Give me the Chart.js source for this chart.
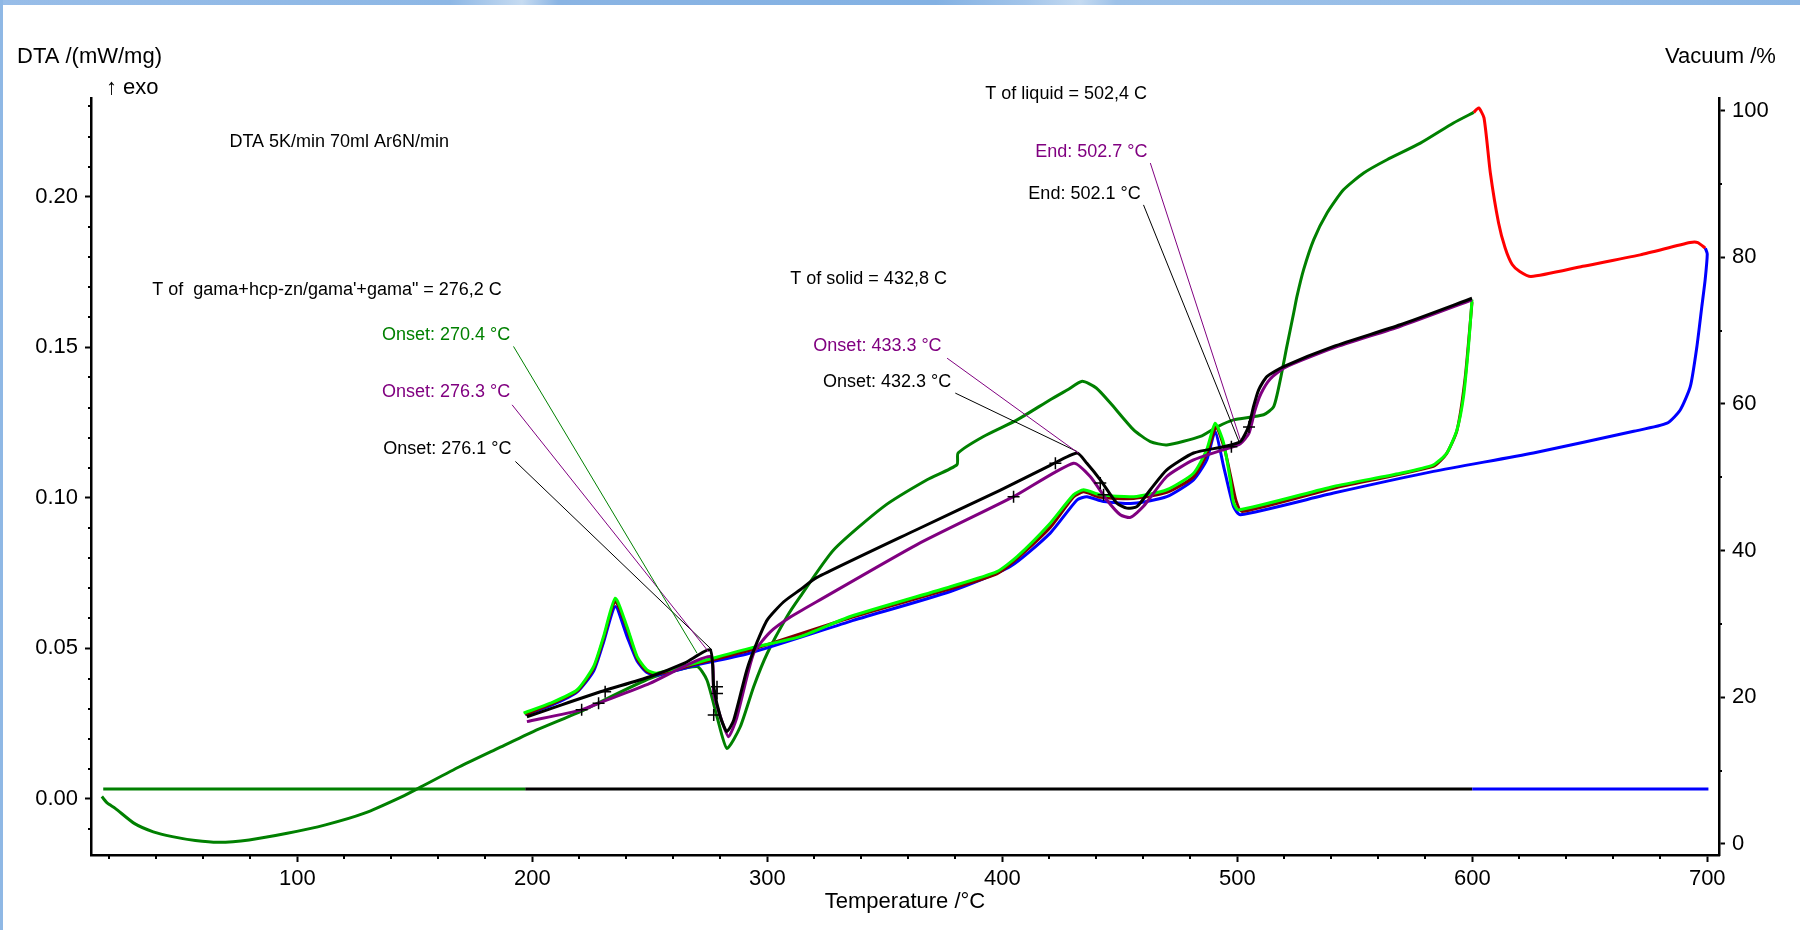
<!DOCTYPE html>
<html>
<head>
<meta charset="utf-8">
<script src="https://cdn.jsdelivr.net/npm/chart.js@4.4.1/dist/chart.umd.min.js"></script>
<style>
  body { margin: 0; background: #fff; }
  #wrap { position: relative; width: 1800px; height: 930px; overflow: hidden; background: #fff; }
  #wrap canvas { position: absolute; left: 0; top: 0; }
  #topBand { position: absolute; left: 0; top: 0; width: 1800px; height: 5px; z-index: 2;
    background: linear-gradient(90deg, #98bde8 0%, #8db7e5 25%, #c6dbf1 29%, #8ab4e3 31%, #83b1e3 52%, #a3c5ea 57%, #c4daf1 60%, #9dc1e8 62%, #95bce7 85%, #8cb6e4 100%); }
  #leftBand { position: absolute; left: 0; top: 0; width: 3px; height: 930px; z-index: 2; background: #8fb8e5; }
</style>
</head>
<body>
<div id="wrap">
  <div id="topBand"></div>
  <div id="leftBand"></div>
  <canvas id="chart" width="1800" height="930"></canvas>
</div>
<script>
// heating, first run (dark green), then 600-700 (red)
const heat1T = [16.8, 19.2, 22.5, 30.6, 38.7, 46.8, 56.6, 66.5, 79.5, 95.7, 112, 128.3, 144.6, 152.8, 169, 185.3, 200.4, 220.4, 250.2, 270, 274.3, 278.6, 282.8, 288.5, 294.2, 300, 308.4, 314, 328.2, 349.5, 368, 380.7, 381.2, 392, 406.3, 420.4, 428, 434, 440, 446, 455.9, 463, 470, 484.3, 491.5, 498.4, 511.2, 515.5, 518.3, 521.1, 524, 525.4, 528.2, 532.5, 538.2, 545.2, 553.8, 563.7, 577.9, 592, 600.6];
const heat1DTA = [0.0008, -0.0014, -0.0031, -0.0081, -0.0109, -0.0125, -0.0138, -0.0144, -0.0136, -0.0114, -0.0086, -0.0048, 0.0008, 0.0041, 0.0107, 0.0168, 0.0224, 0.029, 0.0401, 0.044, 0.0395, 0.0273, 0.0168, 0.024, 0.0373, 0.0484, 0.0606, 0.0672, 0.0827, 0.0971, 0.106, 0.111, 0.1149, 0.1204, 0.1259, 0.1326, 0.136, 0.1387, 0.1365, 0.1315, 0.1226, 0.1187, 0.1176, 0.1204, 0.1236, 0.1259, 0.1276, 0.1303, 0.1392, 0.1503, 0.1614, 0.1669, 0.1757, 0.1857, 0.1946, 0.2023, 0.2079, 0.2123, 0.2178, 0.2245, 0.228];

const hold1T = [600.6, 602.7, 605, 607.7, 611.2, 614, 617, 620.2, 625, 647, 671.5, 692.7, 696, 699.2];
const hold1DTA = [0.228, 0.2295, 0.2262, 0.2079, 0.1913, 0.183, 0.1775, 0.1752, 0.1735, 0.1769, 0.1807, 0.1848, 0.1848, 0.1829];

// cooling curves (blue, light green, brown)
const cool1T = [699.2, 700, 699.1, 697.7, 695.6, 692.8, 688.5, 682.9, 668.7, 626, 583.5, 541, 501.3, 498.4, 494.2, 490.6, 487, 481.4, 470, 455.9, 443.1, 436, 431.8, 420.4, 403.4, 377.9, 335.3, 292.8, 271.5, 253, 248.8, 244.6, 240.3, 235.3, 230.3, 226.1, 219, 207.7, 197];
const cool1DTA = [0.1829, 0.181, 0.1724, 0.1636, 0.1503, 0.137, 0.1292, 0.1248, 0.1221, 0.1149, 0.1088, 0.1016, 0.0944, 0.0971, 0.1104, 0.122, 0.1126, 0.106, 0.1004, 0.0982, 0.0988, 0.1004, 0.0993, 0.0883, 0.0772, 0.0689, 0.059, 0.0485, 0.0448, 0.0412, 0.042, 0.0458, 0.054, 0.0639, 0.052, 0.0425, 0.0355, 0.031, 0.028];

const cool2T = [599.9, 598.4, 596.3, 593.5, 589.2, 583.5, 569.4, 541, 500.6, 498.4, 497, 494.2, 490.6, 487, 481.4, 470, 455.9, 441.7, 434.6, 430.3, 420.4, 406.3, 397.7, 377.9, 335.3, 314, 292.8, 271.5, 253, 248.8, 244.6, 240.3, 235.3, 230.3, 226.1, 219, 207.7, 196.3];
const cool2DTA = [0.1658, 0.1503, 0.1337, 0.1226, 0.1149, 0.111, 0.1082, 0.1038, 0.096, 0.0985, 0.106, 0.1182, 0.1248, 0.116, 0.1082, 0.1027, 0.1004, 0.101, 0.1027, 0.101, 0.0916, 0.0805, 0.0755, 0.0705, 0.0606, 0.0539, 0.0501, 0.0456, 0.0418, 0.0429, 0.0473, 0.0572, 0.0667, 0.0539, 0.044, 0.0362, 0.0318, 0.0285];

const cool3T = [599.9, 597, 593.5, 589, 583.5, 541, 502, 499.5, 497.5, 494.5, 491, 487, 481.4, 470, 455.9, 441.7, 434.6, 430.3, 420.4, 405, 397.7, 377.9, 335.3, 292.8, 271.5, 253, 248.8, 244.6, 240.3, 235.3, 230.3, 226.1, 219, 207.7, 197];
const cool3DTA = [0.165, 0.14, 0.1224, 0.1146, 0.1105, 0.1032, 0.0955, 0.099, 0.106, 0.1165, 0.1236, 0.1145, 0.107, 0.1018, 0.0998, 0.1002, 0.102, 0.1003, 0.0902, 0.079, 0.0748, 0.0698, 0.0602, 0.0495, 0.0452, 0.0415, 0.0424, 0.0466, 0.0565, 0.0656, 0.0532, 0.0434, 0.0358, 0.0314, 0.0281];

// second heating (black, purple)
const heat2aT = [197.7, 210, 229, 250, 265, 275.7, 277.2, 280, 282.8, 285.7, 291.3, 295.6, 300, 307, 314, 321, 363.7, 399, 420.4, 431.8, 436, 441.7, 448.8, 453, 457.3, 463, 470, 481.4, 494.2, 501.3, 504.8, 506.9, 509.1, 512.6, 519.7, 541, 569.4, 599.9];
const heat2aDTA = [0.0273, 0.0306, 0.0356, 0.0406, 0.0452, 0.0495, 0.0373, 0.0273, 0.0224, 0.0262, 0.0429, 0.052, 0.0595, 0.0655, 0.0695, 0.0735, 0.0895, 0.1025, 0.1108, 0.1149, 0.1115, 0.106, 0.0982, 0.0966, 0.0971, 0.1027, 0.1093, 0.1149, 0.117, 0.1187, 0.1237, 0.1303, 0.1359, 0.1403, 0.1436, 0.1503, 0.1575, 0.1663];

const heat2bT = [197.7, 221, 228.2, 250, 275.7, 277.2, 280, 283.5, 287, 294.2, 301.3, 310, 321, 363.7, 404.8, 430.3, 437.4, 444.5, 450.2, 454.5, 460, 470, 481.4, 494.2, 501.3, 505, 507.5, 510, 514, 520, 541, 569.4, 599.9];
const heat2bDTA = [0.0257, 0.0296, 0.0318, 0.0384, 0.0473, 0.035, 0.0275, 0.0207, 0.027, 0.0484, 0.0555, 0.0605, 0.0655, 0.0845, 0.1004, 0.1115, 0.1071, 0.0993, 0.0944, 0.0935, 0.0971, 0.1071, 0.1126, 0.116, 0.118, 0.1215, 0.129, 0.1345, 0.1395, 0.1432, 0.1498, 0.157, 0.1658];

// vacuum trace (right axis)
const vacuumT = [17.4, 197, 600, 700.5];
const vacuumPct = [7.5, 7.5, 7.5, 7.5];
const vacuumColors = ['#008000', '#000000', '#0000ff'];

// evaluation markers (+)
const markT = [221, 228.2, 231, 277.2, 278.6, 278.6, 404.8, 422.6, 441.7, 443.1, 497.5, 505];
const markDTA = [0.0296, 0.0318, 0.0356, 0.0279, 0.035, 0.0373, 0.1004, 0.1115, 0.1049, 0.101, 0.117, 0.1235];

// leader lines from labels to the evaluated points
const leadT = [[192, 270.1], [191.4, 275], [192.8, 276.5], [376.5, 432.5], [380, 431.8], [463, 501.3], [460.1, 501]];
const leadDTA = [[0.1503, 0.0484], [0.1309, 0.0489], [0.1121, 0.0495], [0.1464, 0.1148], [0.1348, 0.1154], [0.2112, 0.1193], [0.1973, 0.1182]];
const leadColors = ['#008000', '#800080', '#000000', '#800080', '#000000', '#800080', '#000000'];

const noteText = ['DTA 5K/min 70ml Ar6N/min', 'T of  gama+hcp-zn/gama\'+gama" = 276,2 C', 'Onset: 270.4 °C', 'Onset: 276.3 °C', 'Onset: 276.1 °C', 'T of solid = 432,8 C', 'Onset: 433.3 °C', 'Onset: 432.3 °C', 'T of liquid = 502,4 C', 'End: 502.7 °C', 'End: 502.1 °C'];
const noteT = [71.1, 38.3, 190.6, 190.6, 191.1, 309.8, 319.6, 323.7, 392.8, 414, 411.1];
const noteDTA = [0.2183, 0.1691, 0.1542, 0.1352, 0.1163, 0.1727, 0.1505, 0.1385, 0.2342, 0.215, 0.201];
const noteColors = ['#000', '#000', '#008000', '#800080', '#000', '#000', '#800080', '#000', '#000', '#800080', '#000'];
const noteAlign = ['left', 'left', 'right', 'right', 'right', 'left', 'left', 'left', 'left', 'left', 'left'];

const tempTicks = [100, 200, 300, 400, 500, 600, 700];
const dtaTicks = [0, 0.05, 0.1, 0.15, 0.2];
const vacTicks = [0, 20, 40, 60, 80, 100];

const FONT = '"Liberation Sans", Arial, sans-serif';

function pts(xs, ys) {
    return xs.map((x, i) => ({x: x, y: ys[i]}));
}

function curve(label, xs, ys, color, axis) {
    return {
        label: label,
        data: pts(xs, ys),
        showLine: true,
        borderColor: color,
        backgroundColor: color,
        borderWidth: 3,
        pointRadius: 0,
        tension: 0.2,
        yAxisID: axis || 'y'
    };
}

var datasets = [];
datasets.push({
    label: 'markers',
    data: pts(markT, markDTA),
    showLine: false,
    pointStyle: 'cross',
    pointRadius: 6,
    pointBorderWidth: 1.5,
    borderColor: '#000',
    yAxisID: 'y'
});
leadT.forEach((xs, i) => {
    datasets.push({
        label: 'lead' + i,
        data: pts(xs, leadDTA[i]),
        showLine: true,
        borderColor: leadColors[i],
        borderWidth: 1,
        pointRadius: 0,
        yAxisID: 'y'
    });
});
datasets.push(curve('heating 2a', heat2aT, heat2aDTA, '#000000'));
datasets.push(curve('heating 2b', heat2bT, heat2bDTA, '#800080'));
datasets.push(curve('cooling 2', cool2T, cool2DTA, '#00ff00'));
datasets.push(curve('cooling 3', cool3T, cool3DTA, '#800000'));
datasets.push(curve('cooling 1', cool1T, cool1DTA, '#0000ff'));
datasets.push(curve('heating 1', heat1T, heat1DTA, '#008000'));
datasets.push(curve('isotherm', hold1T, hold1DTA, '#ff0000'));
var vac = curve('vacuum', vacuumT, vacuumPct, '#008000', 'y1');
vac.tension = 0;
vac.segment = { borderColor: ctx => vacuumColors[ctx.p0DataIndex] };
datasets.push(vac);

function fixTicks(values) {
    return function(scale) {
        scale.ticks = values.map(v => ({value: v}));
    };
}

function drawText(ctx, text, x, y, align, color, size) {
    ctx.save();
    ctx.font = size + 'px ' + FONT;
    ctx.fillStyle = color;
    ctx.textAlign = align;
    ctx.textBaseline = 'middle';
    ctx.fillText(text, x, y);
    ctx.restore();
}

const decor = {
    id: 'decor',
    afterDraw(chart) {
        var ctx = chart.ctx;
        var ca = chart.chartArea;
        var sx = chart.scales.x, sy = chart.scales.y, sv = chart.scales.y1;

        // minor ticks
        ctx.save();
        ctx.strokeStyle = '#000';
        ctx.lineWidth = 2;
        ctx.beginPath();
        for (var t = 20; t <= 700; t += 20) {
            if (t % 100 == 0) continue;
            var px = Math.round(sx.getPixelForValue(t));
            ctx.moveTo(px, ca.bottom);
            ctx.lineTo(px, ca.bottom + 4);
        }
        for (var k = -1; k <= 23; k++) {
            if (k % 5 == 0) continue;
            var py = Math.round(sy.getPixelForValue(k / 100));
            ctx.moveTo(ca.left - 3, py);
            ctx.lineTo(ca.left, py);
        }
        for (var p = 10; p <= 90; p += 20) {
            var pv = Math.round(sv.getPixelForValue(p));
            ctx.moveTo(ca.right, pv);
            ctx.lineTo(ca.right + 3, pv);
        }
        ctx.stroke();
        ctx.restore();

        // axis titles
        drawText(ctx, 'DTA /(mW/mg)', ca.left - 74, ca.top - 41, 'left', '#000', 22);
        drawText(ctx, '\u2191 exo', ca.left + 15, ca.top - 10, 'left', '#000', 22);
        drawText(ctx, 'Vacuum /%', ca.right - 54, ca.top - 41, 'left', '#000', 22);
        drawText(ctx, 'Temperature /\u00b0C', (ca.left + ca.right) / 2, ca.bottom + 47, 'center', '#000', 22);

        // notes
        noteText.forEach((txt, i) => {
            drawText(ctx, txt, sx.getPixelForValue(noteT[i]), sy.getPixelForValue(noteDTA[i]),
                noteAlign[i], noteColors[i], 18);
        });
    }
};

var tickFont = { family: FONT, size: 22 };

new Chart(document.getElementById('chart'), {
    type: 'scatter',
    data: { datasets: datasets },
    options: {
        responsive: false,
        devicePixelRatio: 1,
        animation: false,
        layout: { padding: { top: 98, left: 0, right: 0, bottom: 0 } },
        plugins: {
            legend: { display: false },
            tooltip: { enabled: false }
        },
        elements: { point: { radius: 0 } },
        scales: {
            x: {
                type: 'linear',
                min: 12.2,
                max: 705,
                afterBuildTicks: fixTicks(tempTicks),
                afterFit: s => { s.height = 75; },
                grid: { drawOnChartArea: false, tickLength: 7, tickWidth: 2, tickColor: '#000' },
                border: { color: '#000', width: 2.5 },
                ticks: { font: tickFont, color: '#000', padding: 4, maxRotation: 0, autoSkip: false }
            },
            y: {
                position: 'left',
                min: -0.0186,
                max: 0.2328,
                afterBuildTicks: fixTicks(dtaTicks),
                afterFit: s => { s.width = 91; },
                grid: { drawOnChartArea: false, tickLength: 6, tickWidth: 2, tickColor: '#000' },
                border: { color: '#000', width: 2.5 },
                ticks: { font: tickFont, color: '#000', padding: 7, autoSkip: false,
                    callback: v => v.toFixed(2) }
            },
            y1: {
                position: 'right',
                min: -1.5,
                max: 101.7,
                afterBuildTicks: fixTicks(vacTicks),
                afterFit: s => { s.width = 81; },
                grid: { drawOnChartArea: false, tickLength: 6, tickWidth: 2, tickColor: '#000' },
                border: { color: '#000', width: 2.5 },
                ticks: { font: tickFont, color: '#000', padding: 7, autoSkip: false }
            }
        }
    },
    plugins: [decor]
});
</script>
</body>
</html>
